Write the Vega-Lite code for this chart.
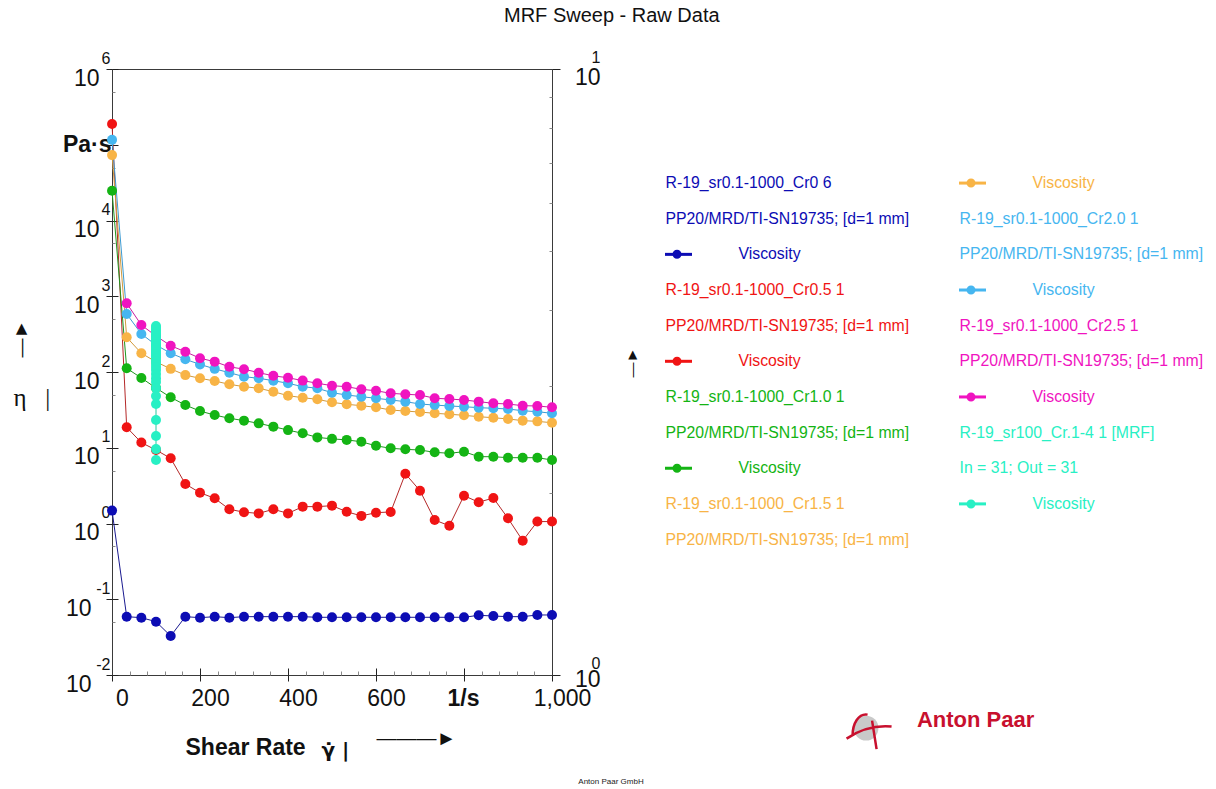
{
  "$schema": "https://vega.github.io/schema/vega-lite/v6.json",
  "background": "white",
  "autosize": {"type": "pad"},
  "padding": {"left": 10, "top": 5, "right": 8, "bottom": 2},
  "bounds": "flush",
  "spacing": 126.5,
  "title": {"text": "MRF Sweep - Raw Data", "fontSize": 20, "fontWeight": "normal", "color": "#111", "anchor": "middle", "frame": "bounds", "offset": 23, "dx": 5},
  "config": {
    "font": "Liberation Sans",
    "view": {"stroke": null},
    "axis": {"labelFont": "Liberation Sans", "titleFont": "Liberation Sans", "grid": false, "labelFlush": false, "labelOverlap": false, "labelBound": false}
  },
  "datasets": {
    "visc": [
      {"series": "Cr0", "rate": 0.1, "eta": 1.48}, {"series": "Cr0", "rate": 33.4, "eta": 0.0589}, {"series": "Cr0", "rate": 66.7, "eta": 0.0571}, {"series": "Cr0", "rate": 100, "eta": 0.0506}, {"series": "Cr0", "rate": 133.4, "eta": 0.0327}, {"series": "Cr0", "rate": 166.7, "eta": 0.0589}, {"series": "Cr0", "rate": 200, "eta": 0.0571}, {"series": "Cr0", "rate": 233.4, "eta": 0.0589}, {"series": "Cr0", "rate": 266.7, "eta": 0.0571}, {"series": "Cr0", "rate": 300, "eta": 0.0589}, {"series": "Cr0", "rate": 333.4, "eta": 0.0589}, {"series": "Cr0", "rate": 366.7, "eta": 0.0589}, {"series": "Cr0", "rate": 400, "eta": 0.0589}, {"series": "Cr0", "rate": 433.4, "eta": 0.0589}, {"series": "Cr0", "rate": 466.7, "eta": 0.0578}, {"series": "Cr0", "rate": 500, "eta": 0.0578}, {"series": "Cr0", "rate": 533.4, "eta": 0.0578}, {"series": "Cr0", "rate": 566.7, "eta": 0.0578}, {"series": "Cr0", "rate": 600, "eta": 0.0578}, {"series": "Cr0", "rate": 633.4, "eta": 0.0578}, {"series": "Cr0", "rate": 666.7, "eta": 0.0578}, {"series": "Cr0", "rate": 700, "eta": 0.0578}, {"series": "Cr0", "rate": 733.4, "eta": 0.0578}, {"series": "Cr0", "rate": 766.7, "eta": 0.0578}, {"series": "Cr0", "rate": 800, "eta": 0.0578}, {"series": "Cr0", "rate": 833.4, "eta": 0.0614}, {"series": "Cr0", "rate": 866.7, "eta": 0.0601}, {"series": "Cr0", "rate": 900, "eta": 0.0589}, {"series": "Cr0", "rate": 933.4, "eta": 0.0589}, {"series": "Cr0", "rate": 966.7, "eta": 0.062}, {"series": "Cr0", "rate": 1000, "eta": 0.062},
      {"series": "Cr0.5", "rate": 0.1, "eta": 188000}, {"series": "Cr0.5", "rate": 33.4, "eta": 18.6}, {"series": "Cr0.5", "rate": 66.7, "eta": 11.7}, {"series": "Cr0.5", "rate": 100, "eta": 9.33}, {"series": "Cr0.5", "rate": 133.4, "eta": 7.26}, {"series": "Cr0.5", "rate": 166.7, "eta": 3.32}, {"series": "Cr0.5", "rate": 200, "eta": 2.55}, {"series": "Cr0.5", "rate": 233.4, "eta": 2.15}, {"series": "Cr0.5", "rate": 266.7, "eta": 1.54}, {"series": "Cr0.5", "rate": 300, "eta": 1.41}, {"series": "Cr0.5", "rate": 333.4, "eta": 1.36}, {"series": "Cr0.5", "rate": 366.7, "eta": 1.54}, {"series": "Cr0.5", "rate": 400, "eta": 1.36}, {"series": "Cr0.5", "rate": 433.4, "eta": 1.67}, {"series": "Cr0.5", "rate": 466.7, "eta": 1.67}, {"series": "Cr0.5", "rate": 500, "eta": 1.72}, {"series": "Cr0.5", "rate": 533.4, "eta": 1.43}, {"series": "Cr0.5", "rate": 566.7, "eta": 1.26}, {"series": "Cr0.5", "rate": 600, "eta": 1.39}, {"series": "Cr0.5", "rate": 633.4, "eta": 1.42}, {"series": "Cr0.5", "rate": 666.7, "eta": 4.54}, {"series": "Cr0.5", "rate": 700, "eta": 2.71}, {"series": "Cr0.5", "rate": 733.4, "eta": 1.11}, {"series": "Cr0.5", "rate": 766.7, "eta": 0.935}, {"series": "Cr0.5", "rate": 800, "eta": 2.33}, {"series": "Cr0.5", "rate": 833.4, "eta": 1.91}, {"series": "Cr0.5", "rate": 866.7, "eta": 2.17}, {"series": "Cr0.5", "rate": 900, "eta": 1.17}, {"series": "Cr0.5", "rate": 933.4, "eta": 0.593}, {"series": "Cr0.5", "rate": 966.7, "eta": 1.06}, {"series": "Cr0.5", "rate": 1000, "eta": 1.06},
      {"series": "Cr1.0", "rate": 0.1, "eta": 24700}, {"series": "Cr1.0", "rate": 33.4, "eta": 112}, {"series": "Cr1.0", "rate": 66.7, "eta": 83.4}, {"series": "Cr1.0", "rate": 100, "eta": 61.5}, {"series": "Cr1.0", "rate": 133.4, "eta": 46.3}, {"series": "Cr1.0", "rate": 166.7, "eta": 36.6}, {"series": "Cr1.0", "rate": 200, "eta": 30.5}, {"series": "Cr1.0", "rate": 233.4, "eta": 27}, {"series": "Cr1.0", "rate": 266.7, "eta": 24.5}, {"series": "Cr1.0", "rate": 300, "eta": 22.8}, {"series": "Cr1.0", "rate": 333.4, "eta": 21}, {"series": "Cr1.0", "rate": 366.7, "eta": 19}, {"series": "Cr1.0", "rate": 400, "eta": 17.1}, {"series": "Cr1.0", "rate": 433.4, "eta": 15.5}, {"series": "Cr1.0", "rate": 466.7, "eta": 13.7}, {"series": "Cr1.0", "rate": 500, "eta": 13.1}, {"series": "Cr1.0", "rate": 533.4, "eta": 12.7}, {"series": "Cr1.0", "rate": 566.7, "eta": 12}, {"series": "Cr1.0", "rate": 600, "eta": 10.6}, {"series": "Cr1.0", "rate": 633.4, "eta": 9.84}, {"series": "Cr1.0", "rate": 666.7, "eta": 9.53}, {"series": "Cr1.0", "rate": 700, "eta": 9.33}, {"series": "Cr1.0", "rate": 733.4, "eta": 8.7}, {"series": "Cr1.0", "rate": 766.7, "eta": 8.45}, {"series": "Cr1.0", "rate": 800, "eta": 8.87}, {"series": "Cr1.0", "rate": 833.4, "eta": 7.62}, {"series": "Cr1.0", "rate": 866.7, "eta": 7.62}, {"series": "Cr1.0", "rate": 900, "eta": 7.39}, {"series": "Cr1.0", "rate": 933.4, "eta": 7.39}, {"series": "Cr1.0", "rate": 966.7, "eta": 7.39}, {"series": "Cr1.0", "rate": 1000, "eta": 6.89},
      {"series": "Cr1.5", "rate": 0.1, "eta": 73000}, {"series": "Cr1.5", "rate": 33.4, "eta": 287}, {"series": "Cr1.5", "rate": 66.7, "eta": 177}, {"series": "Cr1.5", "rate": 100, "eta": 136}, {"series": "Cr1.5", "rate": 133.4, "eta": 110}, {"series": "Cr1.5", "rate": 166.7, "eta": 91}, {"series": "Cr1.5", "rate": 200, "eta": 82.6}, {"series": "Cr1.5", "rate": 233.4, "eta": 76}, {"series": "Cr1.5", "rate": 266.7, "eta": 68.8}, {"series": "Cr1.5", "rate": 300, "eta": 64}, {"series": "Cr1.5", "rate": 333.4, "eta": 61}, {"series": "Cr1.5", "rate": 366.7, "eta": 55}, {"series": "Cr1.5", "rate": 400, "eta": 48.7}, {"series": "Cr1.5", "rate": 433.4, "eta": 45.8}, {"series": "Cr1.5", "rate": 466.7, "eta": 43.6}, {"series": "Cr1.5", "rate": 500, "eta": 39.8}, {"series": "Cr1.5", "rate": 533.4, "eta": 37.5}, {"series": "Cr1.5", "rate": 566.7, "eta": 35.9}, {"series": "Cr1.5", "rate": 600, "eta": 34.2}, {"series": "Cr1.5", "rate": 633.4, "eta": 31.5}, {"series": "Cr1.5", "rate": 666.7, "eta": 30.5}, {"series": "Cr1.5", "rate": 700, "eta": 29.6}, {"series": "Cr1.5", "rate": 733.4, "eta": 28.5}, {"series": "Cr1.5", "rate": 766.7, "eta": 27.7}, {"series": "Cr1.5", "rate": 800, "eta": 26.8}, {"series": "Cr1.5", "rate": 833.4, "eta": 25.7}, {"series": "Cr1.5", "rate": 866.7, "eta": 24.9}, {"series": "Cr1.5", "rate": 900, "eta": 24}, {"series": "Cr1.5", "rate": 933.4, "eta": 22.8}, {"series": "Cr1.5", "rate": 966.7, "eta": 22.3}, {"series": "Cr1.5", "rate": 1000, "eta": 21.4},
      {"series": "Cr2.0", "rate": 0.1, "eta": 116000}, {"series": "Cr2.0", "rate": 33.4, "eta": 583}, {"series": "Cr2.0", "rate": 66.7, "eta": 318}, {"series": "Cr2.0", "rate": 100, "eta": 227}, {"series": "Cr2.0", "rate": 133.4, "eta": 177}, {"series": "Cr2.0", "rate": 166.7, "eta": 147}, {"series": "Cr2.0", "rate": 200, "eta": 126}, {"series": "Cr2.0", "rate": 233.4, "eta": 110}, {"series": "Cr2.0", "rate": 266.7, "eta": 98}, {"series": "Cr2.0", "rate": 300, "eta": 86.7}, {"series": "Cr2.0", "rate": 333.4, "eta": 82.6}, {"series": "Cr2.0", "rate": 366.7, "eta": 76.8}, {"series": "Cr2.0", "rate": 400, "eta": 71}, {"series": "Cr2.0", "rate": 433.4, "eta": 64}, {"series": "Cr2.0", "rate": 466.7, "eta": 61}, {"series": "Cr2.0", "rate": 500, "eta": 53.3}, {"series": "Cr2.0", "rate": 533.4, "eta": 49.7}, {"series": "Cr2.0", "rate": 566.7, "eta": 47.2}, {"series": "Cr2.0", "rate": 600, "eta": 45}, {"series": "Cr2.0", "rate": 633.4, "eta": 42.7}, {"series": "Cr2.0", "rate": 666.7, "eta": 40.6}, {"series": "Cr2.0", "rate": 700, "eta": 37.8}, {"series": "Cr2.0", "rate": 733.4, "eta": 36.6}, {"series": "Cr2.0", "rate": 766.7, "eta": 35.6}, {"series": "Cr2.0", "rate": 800, "eta": 34.8}, {"series": "Cr2.0", "rate": 833.4, "eta": 33.8}, {"series": "Cr2.0", "rate": 866.7, "eta": 33.2}, {"series": "Cr2.0", "rate": 900, "eta": 32.5}, {"series": "Cr2.0", "rate": 933.4, "eta": 30.8}, {"series": "Cr2.0", "rate": 966.7, "eta": 29.9}, {"series": "Cr2.0", "rate": 1000, "eta": 28.5},
      {"series": "Cr2.5", "rate": 33.4, "eta": 807}, {"series": "Cr2.5", "rate": 66.7, "eta": 417}, {"series": "Cr2.5", "rate": 100, "eta": 299}, {"series": "Cr2.5", "rate": 133.4, "eta": 222}, {"series": "Cr2.5", "rate": 166.7, "eta": 185}, {"series": "Cr2.5", "rate": 200, "eta": 152}, {"series": "Cr2.5", "rate": 233.4, "eta": 137}, {"series": "Cr2.5", "rate": 266.7, "eta": 117}, {"series": "Cr2.5", "rate": 300, "eta": 109}, {"series": "Cr2.5", "rate": 333.4, "eta": 98}, {"series": "Cr2.5", "rate": 366.7, "eta": 89}, {"series": "Cr2.5", "rate": 400, "eta": 84}, {"series": "Cr2.5", "rate": 433.4, "eta": 77}, {"series": "Cr2.5", "rate": 466.7, "eta": 71}, {"series": "Cr2.5", "rate": 500, "eta": 66}, {"series": "Cr2.5", "rate": 533.4, "eta": 64}, {"series": "Cr2.5", "rate": 566.7, "eta": 59}, {"series": "Cr2.5", "rate": 600, "eta": 56.6}, {"series": "Cr2.5", "rate": 633.4, "eta": 52.3}, {"series": "Cr2.5", "rate": 666.7, "eta": 50.8}, {"series": "Cr2.5", "rate": 700, "eta": 49.7}, {"series": "Cr2.5", "rate": 733.4, "eta": 45}, {"series": "Cr2.5", "rate": 766.7, "eta": 44}, {"series": "Cr2.5", "rate": 800, "eta": 42.7}, {"series": "Cr2.5", "rate": 833.4, "eta": 40.6}, {"series": "Cr2.5", "rate": 866.7, "eta": 38.6}, {"series": "Cr2.5", "rate": 900, "eta": 37.8}, {"series": "Cr2.5", "rate": 933.4, "eta": 35.9}, {"series": "Cr2.5", "rate": 966.7, "eta": 35.6}, {"series": "Cr2.5", "rate": 1000, "eta": 34.2},
      {"series": "MRF", "rate": 100, "eta": 405}, {"series": "MRF", "rate": 100, "eta": 381}, {"series": "MRF", "rate": 100, "eta": 358}, {"series": "MRF", "rate": 100, "eta": 337}, {"series": "MRF", "rate": 100, "eta": 318}, {"series": "MRF", "rate": 100, "eta": 299}, {"series": "MRF", "rate": 100, "eta": 281}, {"series": "MRF", "rate": 100, "eta": 264}, {"series": "MRF", "rate": 100, "eta": 249}, {"series": "MRF", "rate": 100, "eta": 234}, {"series": "MRF", "rate": 100, "eta": 220}, {"series": "MRF", "rate": 100, "eta": 207}, {"series": "MRF", "rate": 100, "eta": 195}, {"series": "MRF", "rate": 100, "eta": 184}, {"series": "MRF", "rate": 100, "eta": 173}, {"series": "MRF", "rate": 100, "eta": 163}, {"series": "MRF", "rate": 100, "eta": 153}, {"series": "MRF", "rate": 100, "eta": 140}, {"series": "MRF", "rate": 100, "eta": 128}, {"series": "MRF", "rate": 100, "eta": 116}, {"series": "MRF", "rate": 100, "eta": 106}, {"series": "MRF", "rate": 100, "eta": 94}, {"series": "MRF", "rate": 100, "eta": 83}, {"series": "MRF", "rate": 100, "eta": 74}, {"series": "MRF", "rate": 100, "eta": 61.5}, {"series": "MRF", "rate": 100, "eta": 48.2}, {"series": "MRF", "rate": 100, "eta": 37.8}, {"series": "MRF", "rate": 100, "eta": 23.2}, {"series": "MRF", "rate": 100, "eta": 14.3}, {"series": "MRF", "rate": 100, "eta": 9.6}, {"series": "MRF", "rate": 100, "eta": 6.9}
    ],
    "legend": [
      {"series": "Cr0", "text": "R-19_sr0.1-1000_Cr0 6", "kind": "name"},
      {"series": "Cr0", "text": "PP20/MRD/TI-SN19735; [d=1 mm]", "kind": "name"},
      {"series": "Cr0", "text": "Viscosity", "kind": "symbol"},
      {"series": "Cr0.5", "text": "R-19_sr0.1-1000_Cr0.5 1", "kind": "name"},
      {"series": "Cr0.5", "text": "PP20/MRD/TI-SN19735; [d=1 mm]", "kind": "name"},
      {"series": "Cr0.5", "text": "Viscosity", "kind": "symbol"},
      {"series": "Cr1.0", "text": "R-19_sr0.1-1000_Cr1.0 1", "kind": "name"},
      {"series": "Cr1.0", "text": "PP20/MRD/TI-SN19735; [d=1 mm]", "kind": "name"},
      {"series": "Cr1.0", "text": "Viscosity", "kind": "symbol"},
      {"series": "Cr1.5", "text": "R-19_sr0.1-1000_Cr1.5 1", "kind": "name"},
      {"series": "Cr1.5", "text": "PP20/MRD/TI-SN19735; [d=1 mm]", "kind": "name"},
      {"series": "Cr1.5", "text": "Viscosity", "kind": "symbol"},
      {"series": "Cr2.0", "text": "R-19_sr0.1-1000_Cr2.0 1", "kind": "name"},
      {"series": "Cr2.0", "text": "PP20/MRD/TI-SN19735; [d=1 mm]", "kind": "name"},
      {"series": "Cr2.0", "text": "Viscosity", "kind": "symbol"},
      {"series": "Cr2.5", "text": "R-19_sr0.1-1000_Cr2.5 1", "kind": "name"},
      {"series": "Cr2.5", "text": "PP20/MRD/TI-SN19735; [d=1 mm]", "kind": "name"},
      {"series": "Cr2.5", "text": "Viscosity", "kind": "symbol"},
      {"series": "MRF", "text": "R-19_sr100_Cr.1-4 1 [MRF]", "kind": "name"},
      {"series": "MRF", "text": "In = 31; Out = 31", "kind": "name"},
      {"series": "MRF", "text": "Viscosity", "kind": "symbol"}
    ]
  },
  "hconcat": [
    {
      "width": 440,
      "height": 606,
      "view": {"stroke": "#3a3a3a", "strokeWidth": 1},
      "title": {"text": "Anton Paar GmbH", "orient": "bottom", "anchor": "end", "align": "center", "dx": -28, "fontSize": 8, "fontWeight": "normal", "color": "#222", "offset": 18},
      "layer": [
        {
          "layer": [
            {
              "data": {"name": "visc"},
              "mark": {"type": "line", "strokeWidth": 1, "clip": false},
              "encoding": {
                "x": {
                  "field": "rate", "type": "quantitative",
                  "scale": {"domain": [0, 1000], "nice": false, "zero": false},
                  "axis": {
                    "orient": "bottom",
                    "values": [0, 200, 400, 600, 800, 1000],
                    "labelExpr": "datum.value == 800 ? '1/s' : format(datum.value, ',')",
                    "labelFontWeight": {"condition": {"test": "datum.value == 800", "value": "bold"}, "value": "normal"},
                    "labelOffset": {"condition": {"test": "datum.value == 800", "value": -1}, "value": 10},
                    "labelFontSize": 23, "labelColor": "#111", "labelPadding": 6,
                    "tickSize": 6, "tickColor": "#222", "domainColor": "#3a3a3a",
                    "title": "Shear Rate", "titleFontSize": 23, "titleFontWeight": "bold", "titleColor": "#111",
                    "titleAngle": 0, "titleAlign": "left", "titleBaseline": "middle", "titleX": 73, "titleY": 72
                  }
                },
                "y": {
                  "field": "eta", "type": "quantitative",
                  "scale": {"type": "log", "domain": [0.01, 1000000], "nice": false},
                  "axis": {
                    "orient": "left",
                    "values": [0.01, 0.1, 1, 10, 100, 1000, 10000, 100000, 1000000],
                    "labelExpr": "datum.value == 100000 ? 'Pa·s' : '10'",
                    "labelFontWeight": {"condition": {"test": "datum.value == 100000", "value": "bold"}, "value": "normal"},
                    "labelFontSize": 23,
                    "labelOffset": {"condition": {"test": "datum.value == 100000", "value": 0}, "value": 9},
                    "labelPadding": {"condition": [{"test": "datum.value == 100000", "value": -5}, {"test": "datum.value < 1", "value": 15}], "value": 7},
                    "labelColor": "#111", "labelBaseline": "middle",
                    "tickSize": 6, "tickColor": "#222", "domainColor": "#3a3a3a",
                    "title": "η\u00a0\u00a0\u00a0|", "titleFont": "Liberation Serif", "titleFontSize": 25, "titleFontWeight": "normal", "titleColor": "#111",
                    "titleAngle": 0, "titleAlign": "left", "titleBaseline": "middle", "titleX": -99, "titleY": 328
                  }
                },
                "stroke": {
                  "field": "series", "type": "nominal",
                  "scale": {"domain": ["Cr0", "Cr0.5", "Cr1.0", "Cr1.5", "Cr2.0", "Cr2.5", "MRF"], "range": ["#1a1a90", "#b42828", "#1e961e", "#d29a3c", "#3c9ad2", "#c81ea0", "#28c8a0"]},
                  "legend": null
                }
              }
            },
            {
              "data": {"name": "visc"},
              "mark": {"type": "point", "filled": true, "size": 100, "opacity": 1, "clip": false},
              "encoding": {
                "x": {"field": "rate", "type": "quantitative", "scale": {"domain": [0, 1000], "nice": false, "zero": false}, "axis": null},
                "y": {"field": "eta", "type": "quantitative", "scale": {"type": "log", "domain": [0.01, 1000000], "nice": false}, "axis": null},
                "color": {
                  "field": "series", "type": "nominal",
                  "scale": {"domain": ["Cr0", "Cr0.5", "Cr1.0", "Cr1.5", "Cr2.0", "Cr2.5", "MRF"], "range": ["#0c0cb4", "#f01414", "#14b414", "#f8b446", "#46b6f0", "#f014c0", "#28f0c4"]},
                  "legend": null
                }
              }
            },
            {
              "data": {"values": [{}]},
              "mark": {"type": "point", "opacity": 0},
              "encoding": {
                "x": {"datum": 500, "type": "quantitative", "scale": {"domain": [0, 1000], "nice": false, "zero": false}, "axis": null},
                "y": {
                  "datum": 1, "type": "quantitative",
                  "scale": {"type": "log", "domain": [0.01, 1000000], "nice": false},
                  "axis": {
                    "orient": "left",
                    "values": [0.01, 0.1, 1, 10, 100, 1000, 10000, 1000000],
                    "labelExpr": "'' + round(log(datum.value) / LN10)",
                    "ticks": false, "domain": false,
                    "labelFontSize": 16, "labelColor": "#111", "labelPadding": 2, "labelOffset": -11,
                    "labelAlign": "right", "labelBaseline": "middle", "title": null
                  }
                }
              }
            },
            {
              "data": {"values": [{}]},
              "mark": {"type": "point", "opacity": 0},
              "encoding": {
                "x": {"datum": 500, "type": "quantitative", "scale": {"domain": [0, 1000], "nice": false, "zero": false}, "axis": null},
                "y": {
                  "datum": 1, "type": "quantitative",
                  "scale": {"type": "log", "domain": [0.01, 1000000], "nice": false},
                  "axis": {
                    "orient": "left",
                    "values": [0.01, 0.05, 0.1, 0.5, 1, 5, 10, 50, 100, 500, 1000, 5000, 10000, 50000, 100000, 500000, 1000000],
                    "labels": false, "domain": false,
                    "tickSize": {"condition": {"test": "indexof([0.01, 0.1, 1, 10, 100, 1000, 10000, 100000, 1000000], datum.value) >= 0", "value": -6}, "value": -3},
                    "tickColor": {"condition": {"test": "indexof([0.01, 0.1, 1, 10, 100, 1000, 10000, 100000, 1000000], datum.value) >= 0", "value": "#222"}, "value": "#8a8a8a"},
                    "title": "―►", "titleFontSize": 19, "titleFontWeight": "normal", "titleColor": "#111",
                    "titleAngle": 270, "titleAlign": "center", "titleBaseline": "middle", "titleX": -92, "titleY": 269
                  }
                }
              }
            },
            {
              "data": {"values": [{}]},
              "mark": {"type": "point", "opacity": 0},
              "encoding": {
                "y": {"datum": 1, "type": "quantitative", "scale": {"type": "log", "domain": [0.01, 1000000], "nice": false}, "axis": null},
                "x": {
                  "datum": 500, "type": "quantitative",
                  "scale": {"domain": [0, 1000], "nice": false, "zero": false},
                  "axis": {
                    "orient": "bottom",
                    "values": [0, 40, 80, 120, 160, 200, 240, 280, 320, 360, 400, 440, 480, 520, 560, 600, 640, 680, 720, 760, 800, 840, 880, 920, 960, 1000],
                    "labels": false, "domain": false,
                    "tickSize": {"condition": {"test": "datum.value % 200 == 0", "value": -7}, "value": -4},
                    "tickColor": {"condition": {"test": "datum.value % 200 == 0", "value": "#222"}, "value": "#8a8a8a"},
                    "title": "γ̇ |", "titleFont": "DejaVu Sans", "titleFontSize": 20, "titleFontWeight": "bold", "titleColor": "#111",
                    "titleAngle": 0, "titleAlign": "left", "titleBaseline": "middle", "titleX": 209, "titleY": 75
                  }
                }
              }
            },
            {
              "data": {"values": [{}]},
              "mark": {"type": "point", "opacity": 0},
              "encoding": {
                "y": {"datum": 1, "type": "quantitative", "scale": {"type": "log", "domain": [0.01, 1000000], "nice": false}, "axis": null},
                "x": {
                  "datum": 500, "type": "quantitative",
                  "scale": {"domain": [0, 1000], "nice": false, "zero": false},
                  "axis": {
                    "orient": "bottom", "ticks": false, "labels": false, "domain": false,
                    "title": "―――►", "titleFontSize": 20, "titleFontWeight": "normal", "titleColor": "#111",
                    "titleAngle": 0, "titleAlign": "left", "titleBaseline": "middle", "titleX": 264, "titleY": 63
                  }
                }
              }
            }
          ],
          "resolve": {"axis": {"x": "independent", "y": "independent"}}
        },
        {
          "data": {"values": [{}]},
          "mark": {"type": "point", "opacity": 0},
          "encoding": {
            "x": {"datum": 500, "type": "quantitative", "scale": {"domain": [0, 1000], "nice": false, "zero": false}, "axis": null},
            "y": {
              "datum": 1, "type": "quantitative",
              "scale": {"type": "log", "domain": [1, 10], "nice": false},
              "axis": {
                "orient": "right", "values": [1, 10], "labelExpr": "'10'",
                "tickSize": 8, "tickColor": "#222", "domainColor": "#3a3a3a",
                "labelFontSize": 23, "labelColor": "#111", "labelAlign": "right", "labelPadding": 40,
                "labelOffset": {"condition": {"test": "datum.value == 10", "value": 8}, "value": 4},
                "labelBaseline": "middle",
                "title": "―►", "titleFontSize": 15, "titleFontWeight": "normal", "titleColor": "#111",
                "titleAngle": 270, "titleAlign": "center", "titleBaseline": "middle", "titleX": 79, "titleY": 293
              }
            }
          }
        },
        {
          "data": {"values": [{}]},
          "mark": {"type": "point", "opacity": 0},
          "encoding": {
            "x": {"datum": 500, "type": "quantitative", "scale": {"domain": [0, 1000], "nice": false, "zero": false}, "axis": null},
            "y": {
              "datum": 1, "type": "quantitative",
              "scale": {"type": "log", "domain": [1, 10], "nice": false},
              "axis": {
                "orient": "right", "values": [1, 10], "labelExpr": "datum.value == 10 ? '1' : '0'",
                "ticks": false, "domain": false,
                "labelFontSize": 16, "labelColor": "#111", "labelAlign": "right", "labelPadding": 48, "labelOffset": -12, "labelBaseline": "middle",
                "title": null
              }
            }
          }
        },
        {
          "data": {"values": [{}]},
          "mark": {"type": "point", "opacity": 0},
          "encoding": {
            "x": {"datum": 500, "type": "quantitative", "scale": {"domain": [0, 1000], "nice": false, "zero": false}, "axis": null},
            "y": {
              "datum": 1, "type": "quantitative",
              "scale": {"type": "log", "domain": [1, 10], "nice": false},
              "axis": {
                "orient": "right", "values": [2, 3, 4, 5, 6, 7, 8, 9],
                "labels": false, "domain": false, "tickSize": -3, "tickColor": "#8a8a8a", "title": null
              }
            }
          }
        }
      ],
      "resolve": {"scale": {"y": "independent"}, "axis": {"x": "independent", "y": "independent"}}
    },
    {
      "width": 294,
      "height": 606,
      "view": {"stroke": null},
      "layer": [
        {
          "data": {"name": "legend"},
          "transform": [
            {"window": [{"op": "row_number", "as": "i"}]},
            {"calculate": "datum.i <= 11 ? 1 : 2", "as": "col"},
            {"calculate": "datum.i <= 11 ? datum.i : datum.i - 11", "as": "line"}
          ],
          "encoding": {
            "x": {"field": "col", "type": "quantitative", "scale": {"domain": [1, 2], "nice": false, "zero": false}, "axis": null},
            "y": {"field": "line", "type": "quantitative", "scale": {"domain": [-2.2, 14.8], "reverse": true, "nice": false, "zero": false}, "axis": null},
            "color": {
              "field": "series", "type": "nominal",
              "scale": {"domain": ["Cr0", "Cr0.5", "Cr1.0", "Cr1.5", "Cr2.0", "Cr2.5", "MRF"], "range": ["#0c0cb4", "#f01414", "#14b414", "#f8b446", "#46b6f0", "#f014c0", "#28f0c4"]},
              "legend": null
            }
          },
          "layer": [
            {
              "transform": [{"filter": "datum.kind == 'name'"}],
              "mark": {"type": "text", "align": "left", "baseline": "middle", "fontSize": 15.8, "dx": -13},
              "encoding": {"text": {"field": "text"}}
            },
            {
              "transform": [{"filter": "datum.kind == 'symbol'"}],
              "mark": {"type": "text", "align": "left", "baseline": "middle", "fontSize": 15.8, "dx": 60},
              "encoding": {"text": {"field": "text"}}
            },
            {
              "transform": [{"filter": "datum.kind == 'symbol'"}],
              "mark": {"type": "point", "shape": "M -1 0 L 1 0", "size": 729, "strokeWidth": 3, "filled": false, "opacity": 1}
            },
            {
              "transform": [{"filter": "datum.kind == 'symbol'"}],
              "mark": {"type": "point", "shape": "M -1 0 L 1 0 M -0.443 0 A 0.333 0.333 0 1 0 0.223 0 A 0.333 0.333 0 1 0 -0.443 0 Z", "size": 729, "filled": true, "opacity": 1}
            }
          ]
        },
        {
          "data": {"values": [{}]},
          "mark": {"type": "point", "shape": "circle", "filled": true, "size": 615, "color": "#c9c9c9", "opacity": 1},
          "encoding": {
            "x": {"datum": 1.638, "type": "quantitative", "scale": {"domain": [1, 2], "nice": false, "zero": false}, "axis": null},
            "y": {"datum": 16.29, "type": "quantitative", "scale": {"domain": [-2.2, 14.8], "reverse": true, "nice": false, "zero": false}, "axis": null}
          }
        },
        {
          "data": {"values": [{}]},
          "mark": {"type": "point", "shape": "M -0.9 0.5 C -0.9 -0.3 -0.5 -1.0 0.1 -0.9 M -1.3 0.7 C -0.4 0.1 0.6 -0.2 1.7 -0.1 M 0.4 -0.5 L 0.7 1.4", "filled": false, "size": 900, "stroke": "#c8102e", "strokeWidth": 2.5, "opacity": 1},
          "encoding": {
            "x": {"datum": 1.638, "type": "quantitative", "scale": {"domain": [1, 2], "nice": false, "zero": false}, "axis": null},
            "y": {"datum": 16.29, "type": "quantitative", "scale": {"domain": [-2.2, 14.8], "reverse": true, "nice": false, "zero": false}, "axis": null}
          }
        },
        {
          "data": {"values": [{}]},
          "mark": {"type": "text", "text": "Anton Paar", "fontSize": 22, "fontWeight": "bold", "color": "#c8102e", "align": "left", "baseline": "middle"},
          "encoding": {
            "x": {"datum": 1.811, "type": "quantitative", "scale": {"domain": [1, 2], "nice": false, "zero": false}, "axis": null},
            "y": {"datum": 16.07, "type": "quantitative", "scale": {"domain": [-2.2, 14.8], "reverse": true, "nice": false, "zero": false}, "axis": null}
          }
        }
      ]
    }
  ]
}
